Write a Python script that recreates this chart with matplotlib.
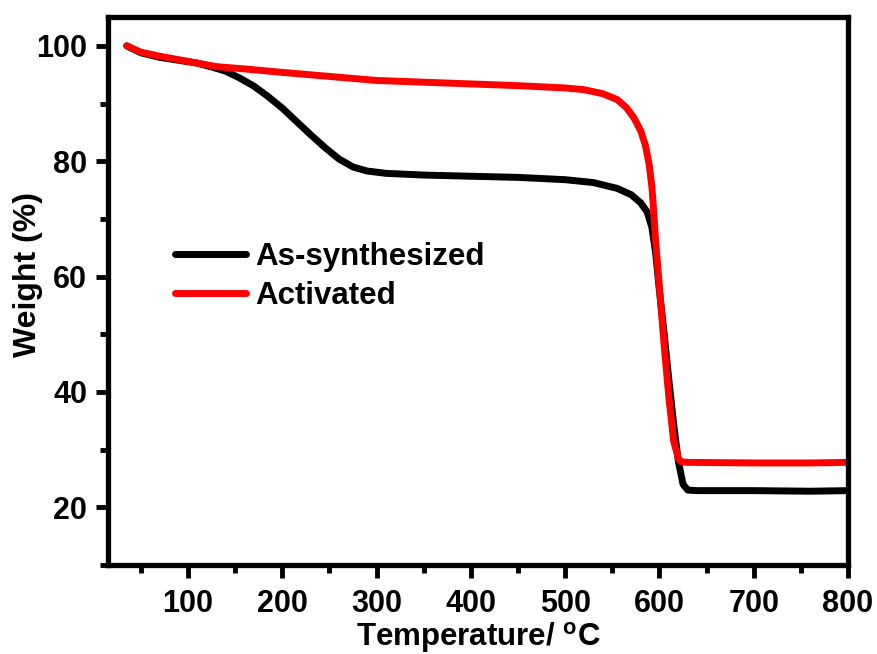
import matplotlib
matplotlib.use("Agg")
import matplotlib.pyplot as plt
from matplotlib.ticker import MultipleLocator

plt.rcParams["font.family"] = ["Liberation Sans", "DejaVu Sans"]
plt.rcParams["font.weight"] = "bold"
plt.rcParams["mathtext.fontset"] = "custom"
plt.rcParams["mathtext.bf"] = "Liberation Sans:bold"
plt.rcParams["mathtext.rm"] = "Liberation Sans:bold"

# ── data ─────────────────────────────────────────────────────────────────────
temp_as = [35, 50, 70, 90, 110, 126, 140, 155, 170, 185, 200, 215, 230, 245,
           260, 275, 290, 310, 350, 400, 450, 500, 530, 555, 570, 580, 587,
           592, 596, 600, 605, 610, 615, 620, 625, 630, 640, 700, 760, 800]
weight_as = [100, 98.8, 98.0, 97.5, 97.0, 96.3, 95.6, 94.4, 93.0, 91.2, 89.2,
             86.9, 84.6, 82.4, 80.4, 79.0, 78.3, 77.9, 77.6, 77.4, 77.2, 76.8,
             76.3, 75.3, 74.2, 72.8, 71.2, 68.5, 64.0, 57.5, 50.0, 42.0, 34.5,
             28.0, 24.0, 23.0, 22.9, 22.9, 22.8, 22.9]

temp_act = [35, 50, 70, 90, 110, 130, 160, 200, 250, 300, 350, 400, 450, 500,
            520, 540, 555, 565, 573, 580, 585, 589, 592, 594, 596, 600, 605,
            610, 615, 620, 623, 630, 700, 760, 800]
weight_act = [100, 98.9, 98.2, 97.6, 97.0, 96.4, 96.0, 95.4, 94.7, 94.0, 93.7,
              93.4, 93.1, 92.7, 92.4, 91.7, 90.7, 89.3, 87.5, 85.3, 82.8, 79.5,
              75.5, 71.0, 66.0, 58.0, 48.0, 39.0, 31.5, 28.5, 27.9, 27.8, 27.7,
              27.7, 27.8]

labels = ["As-synthesized", "Activated"]

# ── figure ───────────────────────────────────────────────────────────────────
fig = plt.figure(figsize=(8.77, 6.54), dpi=100, facecolor="white")
ax = fig.add_axes([0.123, 0.136, 0.844, 0.838])

ax.plot(temp_as, weight_as, color="black", lw=5, label=labels[0],
        solid_capstyle="round", solid_joinstyle="round")
ax.plot(temp_act, weight_act, color="#ff0000", lw=5, label=labels[1],
        solid_capstyle="round", solid_joinstyle="round")

ax.set_xlim(15, 800)
ax.set_ylim(10, 105)
ax.xaxis.set_major_locator(MultipleLocator(100))
ax.xaxis.set_minor_locator(MultipleLocator(50))
ax.yaxis.set_major_locator(MultipleLocator(20))
ax.yaxis.set_minor_locator(MultipleLocator(10))

for sp in ax.spines.values():
    sp.set_linewidth(3.8)
ax.tick_params(which="major", direction="out", length=9, width=3.5,
               labelsize=22)
ax.tick_params(which="minor", direction="out", length=5.5, width=3.5)
ax.tick_params(axis="x", which="major", pad=8)
ax.tick_params(axis="y", which="major", pad=6)
for lab in ax.get_xticklabels() + ax.get_yticklabels():
    lab.set_fontweight("bold")

ax.set_xlabel(r"Temperature/ $^{\mathbf{o}}$C", fontsize=22.5,
              fontweight="bold", labelpad=1)
ax.set_ylabel("Weight (%)", fontsize=23, fontweight="bold", va="center")
ax.yaxis.set_label_coords(-0.108, 0.53)

ax.legend(loc="upper left", bbox_to_anchor=(0.053, 0.641), frameon=False,
          handlelength=2.25, handletextpad=0.3, labelspacing=0.3,
          prop={"weight": "bold", "size": 22.5})

plt.savefig("out.png", dpi=100, facecolor="white")
